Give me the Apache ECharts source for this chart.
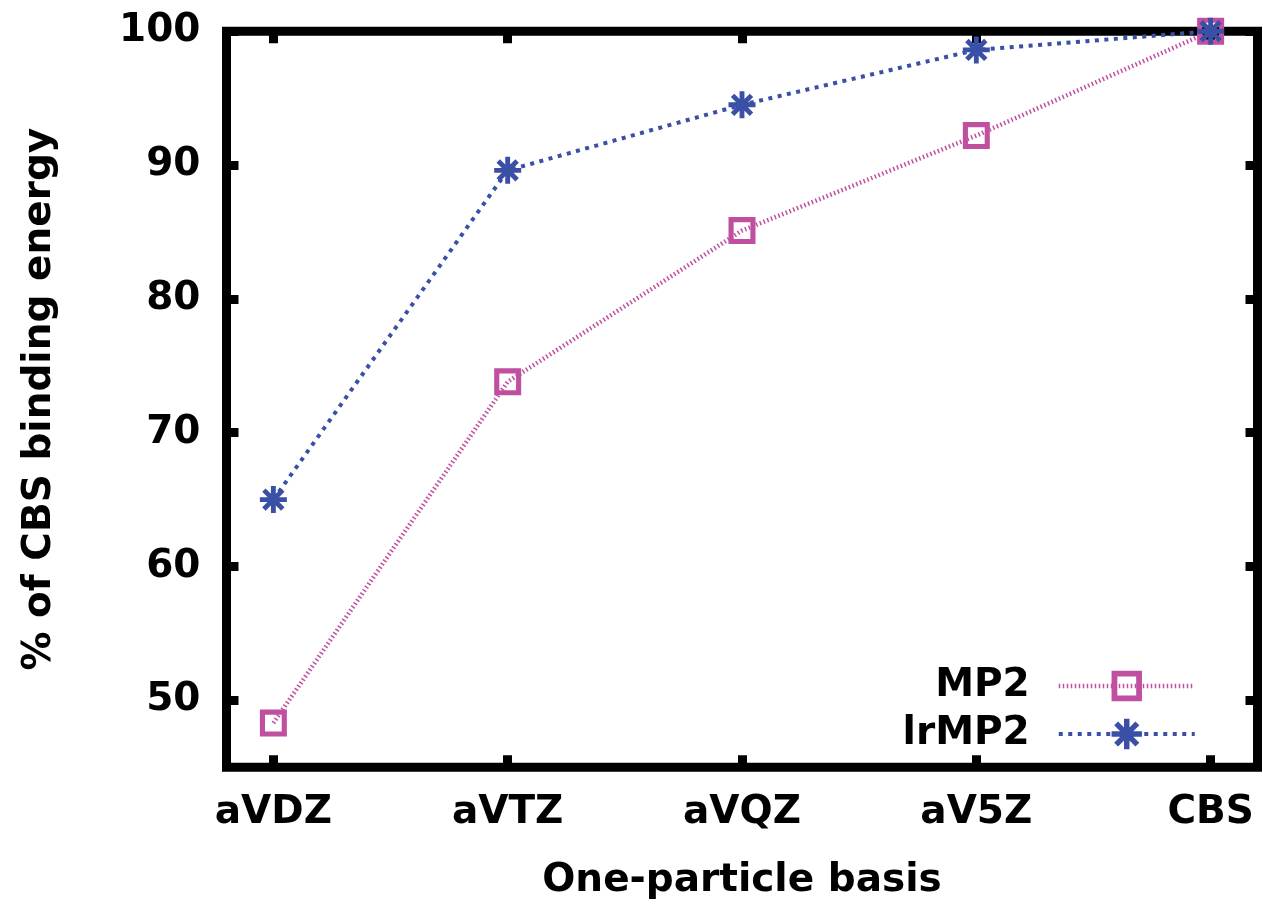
<!DOCTYPE html>
<html>
<head>
<meta charset="utf-8">
<script src="https://cdn.jsdelivr.net/npm/echarts@6/dist/echarts.min.js"></script>
<style>
html,body{margin:0;padding:0;background:#fff;}
#chart{width:1263px;height:906px;}
</style>
</head>
<body>
<div id="chart"></div>
<script>
const categories = ['aVDZ', 'aVTZ', 'aVQZ', 'aV5Z', 'CBS'];
const mp2 = [48.3, 73.8, 85.1, 92.2, 100.0];
const lrmp2 = [65.0, 89.6, 94.5, 98.6, 100.0];
const yTicks = [50, 60, 70, 80, 90, 100];
const xTicks = [0, 1, 2, 3, 4];

const FONT = 'DejaVu Sans';
const FS = 39;
const MP2_COLOR = '#c0509f';
const LR_COLOR = '#3a4fa6';

const squarePath = 'path://M0 0 H100 V100 H0 Z M19 19 V81 H81 V19 Z';
const starPath = 'path://M0 41 H100 V59 H0 Z M41 0 H59 V100 H41 Z ' +
  'M8.64 21.36 L21.36 8.64 L91.36 78.64 L78.64 91.36 Z ' +
  'M78.64 8.64 L91.36 21.36 L21.36 91.36 L8.64 78.64 Z';

const chart = echarts.init(document.getElementById('chart'), null, {renderer: 'canvas'});

const tickStyle = {show: true, inside: true, length: 12, lineStyle: {color: '#000', width: 9}};
const noLine = {show: false, onZero: false};

chart.setOption({
  backgroundColor: '#fff',
  animation: false,
  textStyle: {fontFamily: FONT},
  grid: {
    left: 226.5, right: 5.5, top: 31.2, bottom: 138.8,
    show: true, borderColor: '#000', borderWidth: 9, backgroundColor: 'transparent'
  },
  legend: {
    orient: 'vertical',
    right: 61,
    top: 660,
    align: 'right',
    itemWidth: 136,
    itemHeight: 38,
    itemGap: 6,
    lineStyle: {width: 'inherit'},
    textStyle: {fontFamily: FONT, fontWeight: 'bold', fontSize: FS, color: '#000', lineHeight: 42, padding: [0, 24, 0, 0]},
    data: ['MP2', 'lrMP2']
  },
  xAxis: [{
    type: 'value', position: 'bottom', min: -0.2, max: 4.2,
    name: 'One-particle basis', nameLocation: 'middle', nameGap: 94,
    nameTextStyle: {fontFamily: FONT, fontWeight: 'bold', fontSize: FS, color: '#000'},
    axisLine: noLine,
    splitLine: {show: false},
    axisTick: Object.assign({customValues: xTicks}, tickStyle),
    axisLabel: {
      customValues: xTicks, margin: 26,
      fontFamily: FONT, fontWeight: 'bold', fontSize: FS, color: '#000',
      formatter: v => categories[Math.round(v)]
    }
  }, {
    type: 'value', position: 'top', min: -0.2, max: 4.2,
    axisLine: noLine, splitLine: {show: false},
    axisTick: Object.assign({customValues: xTicks}, tickStyle),
    axisLabel: {show: false, customValues: xTicks}
  }],
  yAxis: [{
    type: 'value', position: 'left', min: 45, max: 100,
    name: '% of CBS binding energy', nameLocation: 'middle', nameGap: 167,
    nameTextStyle: {fontFamily: FONT, fontWeight: 'bold', fontSize: FS, color: '#000'},
    axisLine: noLine, splitLine: {show: false},
    axisTick: Object.assign({customValues: yTicks}, tickStyle),
    axisLabel: {
      customValues: yTicks, margin: 26, padding: [5, 0, 0, 0],
      fontFamily: FONT, fontWeight: 'bold', fontSize: FS, color: '#000'
    }
  }, {
    type: 'value', position: 'right', min: 45, max: 100,
    axisLine: noLine, splitLine: {show: false},
    axisTick: Object.assign({customValues: yTicks}, tickStyle),
    axisLabel: {show: false, customValues: yTicks}
  }],
  series: [{
    name: 'MP2', type: 'line', clip: false,
    xAxisIndex: 0, yAxisIndex: 0,
    data: mp2.map((v, i) => [i, v]),
    symbol: squarePath, symbolSize: 27, symbolKeepAspect: true,
    itemStyle: {color: MP2_COLOR},
    lineStyle: {color: MP2_COLOR, width: 4.5, type: [1.5, 2.5]},
    z: 3
  }, {
    name: 'lrMP2', type: 'line', clip: false,
    xAxisIndex: 0, yAxisIndex: 0,
    data: lrmp2.map((v, i) => [i, v]),
    symbol: starPath, symbolSize: 27, symbolKeepAspect: true,
    itemStyle: {color: LR_COLOR},
    lineStyle: {color: LR_COLOR, width: 4, type: [4, 5.5]},
    z: 4
  }]
});
</script>
</body>
</html>
